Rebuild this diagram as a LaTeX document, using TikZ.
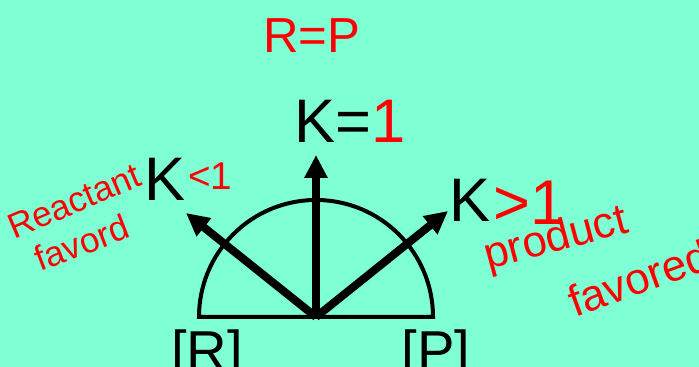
\documentclass[tikz,border=0pt]{standalone}
\usepackage{fontspec}
\setmainfont{Liberation Sans}
\definecolor{Bgcol}{HTML}{7FFFD4}
\definecolor{Inkcol}{HTML}{FF0000}
\usetikzlibrary{arrows.meta, positioning}
\tikzset{
    >={Triangle[length=0.46cm, width=0.44cm]},
    bigarrow/.style={->, line width=0.16cm},
    ktext/.style={font=\fontsize{35}{35}\selectfont, inner sep=0pt, anchor=base west},
    note/.style={Inkcol, inner sep=0pt, anchor=base west}
}

\begin{document}
\begin{tikzpicture}[x=0.02cm, y=0.02cm]
    % Frame and background
    \useasboundingbox (0,0) rectangle (699,367);
    \clip (0,0) rectangle (699,367);
    \fill[Bgcol] (0,0) rectangle (699,367);

    % Coordinates
    \coordinate (O) at (316,50);
    \coordinate (Lend) at (199,50);
    \coordinate (Rend) at (433,50);
    \coordinate (tipLess) at (186,154);
    \coordinate (tipEq) at (316,212);
    \coordinate (tipMore) at (448,156);

    % Half circle
    \draw[line width=0.08cm, line join=miter] (Lend) -- (Rend) arc[start angle=0, end angle=180, radius=117] -- cycle;

    % The three arrows
    \draw[bigarrow] (O) -- (tipLess);
    \draw[bigarrow] (O) -- (tipEq);
    \draw[bigarrow] (O) -- (tipMore);

    % K labels
    \node[ktext] (keq) at (294,224) {K=\textcolor{Inkcol}{1}};
    \node[ktext] (kless) at (144,166) {K};
    \node[note, font=\fontsize{22}{22}\selectfont] (lessone) at (188,177) {<1};
    \node[ktext] (kmore) at (449,145) {K};
    \node[note, font=\fontsize{36}{36}\selectfont] (moreone) at (493,142) {>1};

    % Axis ends
    \node[font=\fontsize{32}{32}\selectfont, inner sep=0pt, anchor=base] (conR) at (207,-4) {[R]};
    \node[font=\fontsize{32}{32}\selectfont, inner sep=0pt, anchor=base] (conP) at (436,-4) {[P]};

    % Handwritten notes
    \node[note, font=\fontsize{28}{28}\selectfont] (rp) at (263,314) {R=P};
    \node[note, font=\fontsize{20}{20}\selectfont, rotate=23] (react) at (14,127) {Reactant};
    \node[note, font=\fontsize{20}{20}\selectfont, rotate=21] (favR) at (40,95) {favord};
    \node[note, font=\fontsize{25}{25}\selectfont, rotate=15] (prod) at (488,97) {product};
    \node[note, font=\fontsize{25}{25}\selectfont, rotate=20] (favP) at (575,49) {favored};
\end{tikzpicture}
\end{document}
